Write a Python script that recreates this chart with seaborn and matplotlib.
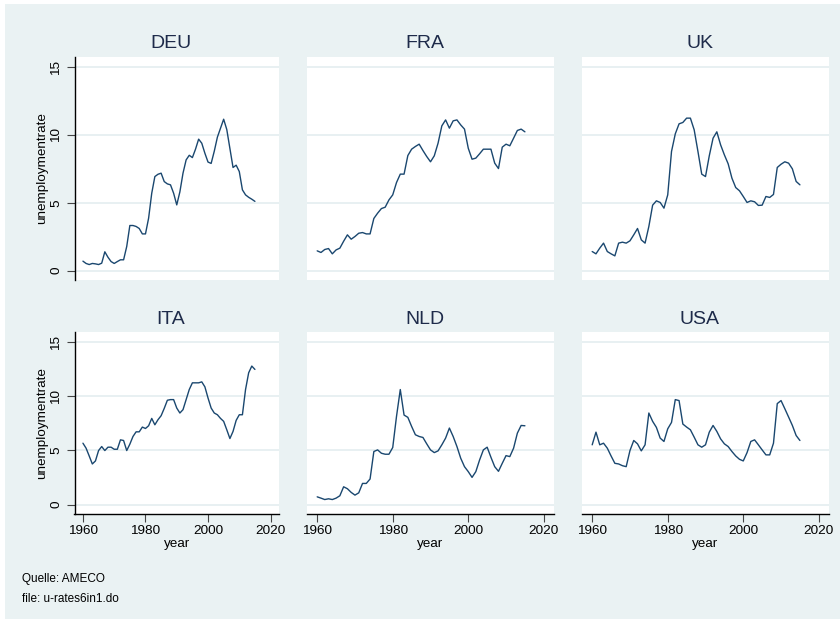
import numpy as np
import pandas as pd
import seaborn as sns
import matplotlib.pyplot as plt
from matplotlib.patches import Rectangle

# unemployment rates (AMECO), 1960-2015
years = list(range(1960, 2016))

deu = [0.69, 0.52, 0.44, 0.52, 0.49, 0.44, 0.54, 1.38, 0.98, 0.66,
       0.52, 0.66, 0.79, 0.79, 1.77, 3.32, 3.32, 3.25, 3.10, 2.70,
       2.70, 3.86, 5.70, 6.93, 7.10, 7.18, 6.56, 6.39, 6.32, 5.70,
       4.84, 5.80, 7.18, 8.16, 8.50, 8.33, 8.95, 9.69, 9.39, 8.65,
       8.00, 7.90, 8.80, 9.84, 10.50, 11.16, 10.40, 9.00, 7.60, 7.77,
       7.30, 5.95, 5.58, 5.40, 5.26, 5.10]
fra = [1.45, 1.33, 1.55, 1.62, 1.23, 1.52, 1.65, 2.16, 2.63, 2.31,
       2.51, 2.75, 2.80, 2.70, 2.70, 3.84, 4.23, 4.57, 4.67, 5.21,
       5.58, 6.49, 7.11, 7.11, 8.48, 8.95, 9.15, 9.32, 8.85, 8.41,
       8.02, 8.46, 9.39, 10.67, 11.11, 10.50, 11.04, 11.11, 10.74, 10.43,
       9.02, 8.21, 8.29, 8.61, 8.95, 8.95, 8.95, 7.92, 7.52, 9.10,
       9.32, 9.20, 9.76, 10.33, 10.43, 10.23]
uk = [1.40, 1.23, 1.65, 2.02, 1.40, 1.23, 1.08, 2.02, 2.09, 2.02,
      2.19, 2.63, 3.10, 2.26, 2.02, 3.25, 4.82, 5.14, 5.02, 4.60,
      5.58, 8.78, 10.08, 10.82, 10.92, 11.24, 11.24, 10.38, 8.78, 7.11,
      6.93, 8.46, 9.76, 10.23, 9.27, 8.53, 7.87, 6.81, 6.12, 5.88,
      5.46, 5.02, 5.14, 5.07, 4.80, 4.82, 5.46, 5.39, 5.61, 7.60,
      7.84, 8.02, 7.92, 7.50, 6.57, 6.32]
ita = [5.67, 5.21, 4.49, 3.75, 4.03, 4.99, 5.36, 4.99, 5.30, 5.30,
       5.11, 5.11, 5.98, 5.92, 4.99, 5.58, 6.29, 6.72, 6.72, 7.16,
       7.03, 7.28, 7.96, 7.37, 7.84, 8.21, 8.89, 9.64, 9.70, 9.70,
       8.92, 8.46, 8.77, 9.70, 10.63, 11.25, 11.25, 11.25, 11.34, 10.88,
       9.85, 8.92, 8.46, 8.30, 7.96, 7.69, 6.91, 6.10, 6.76, 7.78,
       8.30, 8.30, 10.63, 12.18, 12.80, 12.49]
nld = [0.71, 0.59, 0.46, 0.53, 0.46, 0.59, 0.81, 1.64, 1.46, 1.12,
       0.87, 1.08, 1.95, 1.95, 2.36, 4.90, 5.05, 4.74, 4.65, 4.65,
       5.27, 8.15, 10.63, 8.27, 8.06, 7.22, 6.45, 6.29, 6.20, 5.61,
       5.05, 4.80, 4.96, 5.52, 6.14, 7.07, 6.29, 5.36, 4.28, 3.50,
       3.04, 2.51, 3.04, 4.12, 5.05, 5.30, 4.37, 3.50, 3.07, 3.81,
       4.52, 4.43, 5.21, 6.60, 7.31, 7.28]
usa = [5.52, 6.69, 5.52, 5.67, 5.21, 4.49, 3.81, 3.75, 3.59, 3.50,
       4.99, 5.92, 5.61, 4.96, 5.52, 8.46, 7.69, 7.13, 6.14, 5.83,
       7.00, 7.59, 9.70, 9.61, 7.44, 7.16, 6.91, 6.23, 5.52, 5.30,
       5.52, 6.69, 7.31, 6.76, 6.07, 5.61, 5.36, 4.90, 4.49, 4.18,
       4.03, 4.80, 5.83, 5.98, 5.52, 5.05, 4.59, 4.59, 5.67, 9.33,
       9.61, 8.86, 8.09, 7.31, 6.38, 5.92]

countries = ['DEU', 'FRA', 'UK', 'ITA', 'NLD', 'USA']
yticks = [0, 5, 10, 15]
xticks = [1960, 1980, 2000, 2020]

df = pd.DataFrame({
    'year': years * 6,
    'unemploymentrate': deu + fra + uk + ita + nld + usa,
    'country': np.repeat(countries, len(years)),
})

BG = '#eaf2f3'
GRID = '#e4edf0'
LINE = '#1a476f'
TITLE = '#1e2b4a'

sns.set_theme(style='white')
plt.rcParams['font.family'] = ['Liberation Sans', 'DejaVu Sans']

W, H = 840, 619
fig = plt.figure(figsize=(W / 100, H / 100), dpi=100)
fig.patch.set_facecolor('white')
fig.patches.append(Rectangle((5 / W, 0), 1 - 5 / W, 1 - 4 / H, transform=fig.transFigure,
                             facecolor=BG, edgecolor='none', zorder=-10))

# panel boxes in pixels (left, right) / (top, bottom)
cols = [(74.5, 279), (307, 554), (582, 829)]
rows = [(57, 280), (332, 513.5)]
ylims = [(-0.7, 15.75), (-0.83, 15.95)]

for k, c in enumerate(countries):
    r, col = divmod(k, 3)
    x0, x1 = cols[col]
    y0, y1 = rows[r]
    ax = fig.add_axes([x0 / W, 1 - y1 / H, (x1 - x0) / W, (y1 - y0) / H])
    ax.set_facecolor('white')
    sns.lineplot(data=df[df['country'] == c], x='year', y='unemploymentrate',
                 ax=ax, color=LINE, lw=1.0)
    ax.set_xlim(1957.3, 2022.7)
    ax.set_ylim(*ylims[r])
    ax.set_yticks(yticks)
    ax.set_xticks(xticks)
    ax.grid(axis='y', color=GRID, lw=1.2)
    ax.grid(axis='x', visible=False)
    ax.set_axisbelow(True)
    for s in ax.spines.values():
        s.set_visible(False)

    if col == 0:
        ax.spines['left'].set_visible(True)
        ax.spines['left'].set_color('black')
        ax.spines['left'].set_linewidth(1)
        ax.tick_params(axis='y', left=True, length=6, width=0.8, color='#444444',
                       labelsize=9.7, labelcolor='black', pad=3)
        for lab in ax.get_yticklabels():
            lab.set_rotation(90)
            lab.set_va('center')
        ax.set_ylabel('unemploymentrate', fontsize=9.7, color='black', labelpad=1)
    else:
        ax.tick_params(axis='y', left=False, labelleft=False)
        ax.set_ylabel('')

    if r == 1:
        ax.spines['bottom'].set_visible(True)
        ax.spines['bottom'].set_color('black')
        ax.spines['bottom'].set_linewidth(1)
        ax.tick_params(axis='x', bottom=True, length=6, width=0.8, color='#444444',
                       labelsize=9.7, labelcolor='black', pad=2)
        ax.set_xlabel('year', fontsize=9.7, color='black', labelpad=1)
    else:
        ax.tick_params(axis='x', bottom=False, labelbottom=False)
        ax.set_xlabel('')

    title_y = 44 if r == 0 else 320
    fig.text((x0 + x1) / 2 / W - 6 / W, 1 - title_y / H, c, fontsize=14,
             color=TITLE, ha='center', va='center')

fig.text(22 / W, 1 - 579 / H, 'Quelle: AMECO', fontsize=8.5, va='center', color='black')
fig.text(22 / W, 1 - 599 / H, 'file: u-rates6in1.do', fontsize=8.5, va='center', color='black')

fig.savefig('out.png', dpi=100, facecolor=fig.get_facecolor())
